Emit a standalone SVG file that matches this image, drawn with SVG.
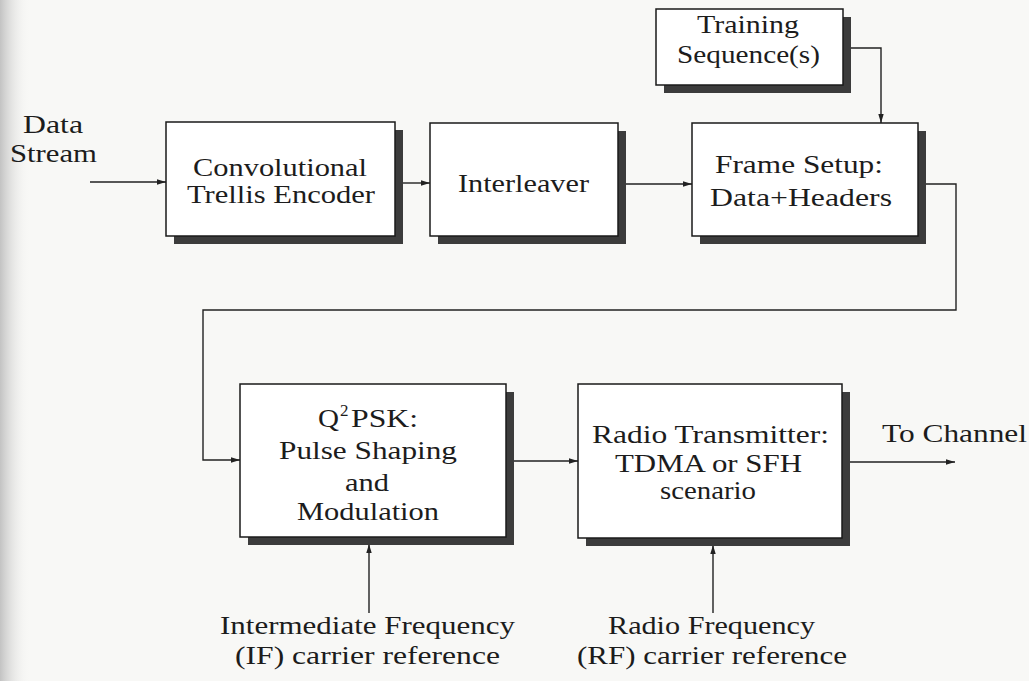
<svg xmlns="http://www.w3.org/2000/svg" width="1029" height="681" viewBox="0 0 1029 681">
  <defs>
    <marker id="ah" viewBox="0 0 10 6" refX="10" refY="3" markerWidth="9" markerHeight="5.4" markerUnits="userSpaceOnUse" orient="auto">
      <path d="M0,0 L10,3 L0,6 z" fill="#222"/>
    </marker>
    <linearGradient id="pageEdge" x1="0" y1="0" x2="1" y2="0">
      <stop offset="0" stop-color="#bdbdbd" stop-opacity="0.9"/>
      <stop offset="1" stop-color="#f6f6f4" stop-opacity="0"/>
    </linearGradient>
    <style>
      .box { fill: #ffffff; stroke: #1a1a1a; stroke-width: 1.5; }
      .shadow { fill: #3c3c3c; }
      .wire { fill: none; stroke: #222; stroke-width: 1.4; marker-end: url(#ah); }
      .lbl { font-family: 'Liberation Serif', serif; font-size: 26px; fill: #1c1c1c; }
      .sup { font-size: 17px; }
    </style>
  </defs>

  <!-- paper -->
  <rect x="0" y="0" width="1029" height="681" fill="#f8f8f6"/>
  <rect x="0" y="0" width="30" height="681" fill="url(#pageEdge)"/>

  <!-- connectors -->
  <g id="connectors">
    <path class="wire" d="M90,182 H166"/>
    <path class="wire" d="M402,183 H430"/>
    <path class="wire" d="M625,184 H692"/>
    <path class="wire" d="M850,48 H881 V123"/>
    <path class="wire" d="M926,184 H956 V310 H203 V460 H240"/>
    <path class="wire" d="M513,461 H578"/>
    <path class="wire" d="M848,462 H955"/>
    <path class="wire" d="M369,613 V544"/>
    <path class="wire" d="M713,613 V545"/>
  </g>

  <g class="lbl">
    <!-- input label -->
    <g id="data-stream">
      <text x="23" y="133" textLength="60" lengthAdjust="spacingAndGlyphs">Data</text>
      <text x="10" y="162" textLength="87" lengthAdjust="spacingAndGlyphs">Stream</text>
    </g>

    <!-- blocks: offset dark shadow behind a white face -->
    <g id="encoder">
      <rect class="shadow" x="174" y="130" width="229" height="114"/>
      <rect class="box" x="166" y="122" width="229" height="114"/>
      <text x="193" y="176" textLength="174" lengthAdjust="spacingAndGlyphs">Convolutional</text>
      <text x="187" y="203" textLength="188" lengthAdjust="spacingAndGlyphs">Trellis Encoder</text>
    </g>

    <g id="interleaver">
      <rect class="shadow" x="438" y="131" width="188" height="113"/>
      <rect class="box" x="430" y="123" width="188" height="113"/>
      <text x="458" y="192" textLength="131" lengthAdjust="spacingAndGlyphs">Interleaver</text>
    </g>

    <g id="training">
      <rect class="shadow" x="664" y="17" width="187" height="76"/>
      <rect class="box" x="656" y="9" width="187" height="76"/>
      <text x="697" y="33" textLength="102" lengthAdjust="spacingAndGlyphs">Training</text>
      <text x="677" y="63" textLength="143" lengthAdjust="spacingAndGlyphs">Sequence(s)</text>
    </g>

    <g id="frame-setup">
      <rect class="shadow" x="700" y="131" width="226" height="113"/>
      <rect class="box" x="692" y="123" width="226" height="113"/>
      <text x="715" y="173" textLength="168" lengthAdjust="spacingAndGlyphs">Frame Setup:</text>
      <text x="710" y="206" textLength="182" lengthAdjust="spacingAndGlyphs">Data+Headers</text>
    </g>

    <g id="modulator">
      <rect class="shadow" x="248" y="392" width="266" height="153"/>
      <rect class="box" x="240" y="384" width="266" height="153"/>
      <text x="318" y="427" textLength="21" lengthAdjust="spacingAndGlyphs">Q</text>
      <text class="sup" x="340" y="416">2</text>
      <text x="351" y="427" textLength="67" lengthAdjust="spacingAndGlyphs">PSK:</text>
      <text x="279" y="459" textLength="178" lengthAdjust="spacingAndGlyphs">Pulse Shaping</text>
      <text x="345" y="491" textLength="44" lengthAdjust="spacingAndGlyphs">and</text>
      <text x="297" y="520" textLength="142" lengthAdjust="spacingAndGlyphs">Modulation</text>
    </g>

    <g id="transmitter">
      <rect class="shadow" x="586" y="392" width="264" height="154"/>
      <rect class="box" x="578" y="384" width="264" height="154"/>
      <text x="592" y="443" textLength="237" lengthAdjust="spacingAndGlyphs">Radio Transmitter:</text>
      <text x="615" y="472" textLength="187" lengthAdjust="spacingAndGlyphs">TDMA or SFH</text>
      <text x="660" y="499" textLength="96" lengthAdjust="spacingAndGlyphs">scenario</text>
    </g>

    <g id="channel">
      <text x="882" y="442" textLength="145" lengthAdjust="spacingAndGlyphs">To Channel</text>
    </g>

    <g id="if-reference">
      <text x="220" y="634" textLength="295" lengthAdjust="spacingAndGlyphs">Intermediate Frequency</text>
      <text x="235" y="664" textLength="265" lengthAdjust="spacingAndGlyphs">(IF) carrier reference</text>
    </g>

    <g id="rf-reference">
      <text x="608" y="634" textLength="207" lengthAdjust="spacingAndGlyphs">Radio Frequency</text>
      <text x="577" y="664" textLength="270" lengthAdjust="spacingAndGlyphs">(RF) carrier reference</text>
    </g>
  </g>
</svg>
